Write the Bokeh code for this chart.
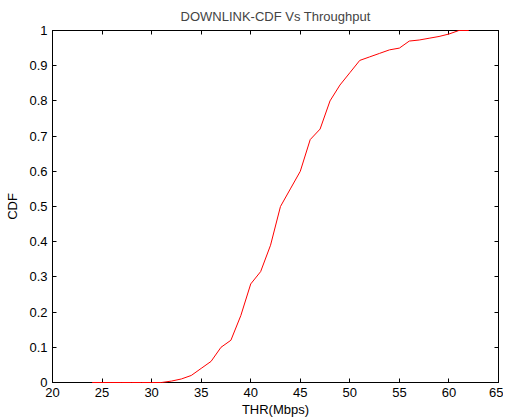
from bokeh.plotting import figure
from bokeh.models import LinearAxis, FixedTicker, Range1d
from bokeh.embed import file_html
from bokeh.resources import INLINE

thr = [24, 25, 26, 27, 28, 29, 30, 31, 32, 33, 34, 35, 36, 37, 38, 39, 40, 41, 42, 43,
       44, 45, 46, 47, 48, 49, 50, 51, 52, 53, 54, 55, 56, 57, 58, 59, 60, 61, 62]
cdf = [0, 0, 0, 0, 0, 0, 0, 0, 0.004, 0.01, 0.02, 0.04, 0.06, 0.10, 0.12, 0.19, 0.28, 0.315, 0.39, 0.50,
       0.55, 0.60, 0.69, 0.72, 0.80, 0.845, 0.88, 0.915, 0.925, 0.935, 0.945, 0.95, 0.97, 0.973, 0.978, 0.983, 0.99, 1.0, 1.0]

x_ticks = [20, 25, 30, 35, 40, 45, 50, 55, 60, 65]
y_ticks = [0, 0.1, 0.2, 0.3, 0.4, 0.5, 0.6, 0.7, 0.8, 0.9, 1]
y_labels = ["0", "0.1", "0.2", "0.3", "0.4", "0.5", "0.6", "0.7", "0.8", "0.9", "1"]

FONT = "Liberation Sans"

p = figure(frame_width=446, frame_height=352,
           x_range=Range1d(20, 65), y_range=Range1d(0, 1),
           output_backend="svg", toolbar_location=None,
           title="DOWNLINK-CDF Vs Throughput",
           min_border_left=52, min_border_right=5, min_border_top=30, min_border_bottom=35)

p.title.align = "center"
p.title.text_font = FONT
p.title.text_font_size = "13px"
p.title.text_font_style = "normal"
p.title.offset = 0
p.title.standoff = 13

p.xgrid.visible = False
p.ygrid.visible = False
p.outline_line_color = "black"
p.outline_line_width = 1

r = p.line(thr, cdf, line_color="#ff0000", line_width=1)
r.level = "overlay"

def style(ax, labels=True):
    ax.major_tick_in = 4
    ax.major_tick_out = 0
    ax.minor_tick_in = 0
    ax.minor_tick_out = 0
    ax.axis_line_color = "black"
    ax.major_tick_line_color = "black"
    ax.major_label_text_font = FONT
    ax.major_label_text_font_size = "13px"
    ax.major_label_text_color = "black"
    ax.axis_label_text_font = FONT
    ax.axis_label_text_font_size = "13px"
    ax.axis_label_text_font_style = "normal"
    ax.axis_label_text_color = "black"
    ax.major_label_standoff = 5
    ax.axis_label_standoff = 2
    if not labels:
        ax.major_label_overrides = {t: "" for t in ax.ticker.ticks}
        ax.major_label_standoff = 0

xa = p.xaxis[0]
xa.ticker = FixedTicker(ticks=x_ticks)
xa.axis_label = "THR(Mbps)"
style(xa)

ya = p.yaxis[0]
ya.ticker = FixedTicker(ticks=y_ticks)
ya.major_label_overrides = {t: l for t, l in zip(y_ticks, y_labels)}
ya.axis_label = "CDF"
style(ya)
ya.axis_label_standoff = 6

top = LinearAxis(ticker=FixedTicker(ticks=x_ticks))
style(top, labels=False)
p.add_layout(top, "above")

right = LinearAxis(ticker=FixedTicker(ticks=y_ticks))
style(right, labels=False)
p.add_layout(right, "right")

open("out.html", "w").write(file_html(p, INLINE))
